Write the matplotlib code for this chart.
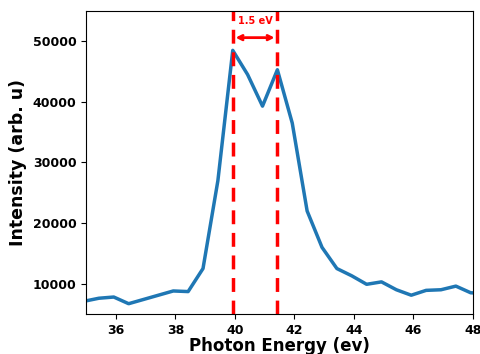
import matplotlib
matplotlib.use('Agg')
import matplotlib.pyplot as plt

energy = [34.93, 35.43, 35.93, 36.43, 36.93, 37.43, 37.93, 38.43, 38.93, 39.43,
          39.93, 40.43, 40.93, 41.43, 41.93, 42.43, 42.93, 43.43, 43.93, 44.43,
          44.93, 45.43, 45.93, 46.43, 46.93, 47.43, 47.93, 48.43]
intensity = [7100, 7600, 7800, 6700, 7400, 8100, 8800, 8700, 12500, 27000,
             48500, 44500, 39300, 45300, 36500, 22000, 16000, 12500, 11300, 9900,
             10300, 9000, 8100, 8900, 9000, 9600, 8500, 8400]
peak_lines = [39.93, 41.43]
gap_label = '1.5 eV'

fig = plt.figure(figsize=(4.81, 3.54), dpi=100)
ax = fig.add_axes([0.179, 0.113, 0.804, 0.856])

ax.plot(energy, intensity, color='#1f77b4', linewidth=2.5)
for xv in peak_lines:
    ax.axvline(xv, color='red', linestyle='--', linewidth=2.5, dashes=(4, 2.5))

ax.annotate('', xy=(peak_lines[0], 50600), xytext=(peak_lines[1], 50600),
            arrowprops=dict(arrowstyle='<->', color='red', lw=2, mutation_scale=8))
ax.text(sum(peak_lines) / 2, 53300, gap_label, color='red', fontsize=7,
        fontweight='bold', ha='center', va='center')

ax.set_xlim(35, 48)
ax.set_ylim(5000, 55000)
ax.set_xticks([36, 38, 40, 42, 44, 46, 48])
ax.set_yticks([10000, 20000, 30000, 40000, 50000])
for lab in ax.get_xticklabels() + ax.get_yticklabels():
    lab.set_fontweight('bold')
    lab.set_fontsize(9)
ax.set_xlabel('Photon Energy (ev)', fontsize=12, fontweight='bold', labelpad=0)
ax.set_ylabel('Intensity (arb. u)', fontsize=12.5, fontweight='bold')

fig.savefig('out.png', dpi=100)
